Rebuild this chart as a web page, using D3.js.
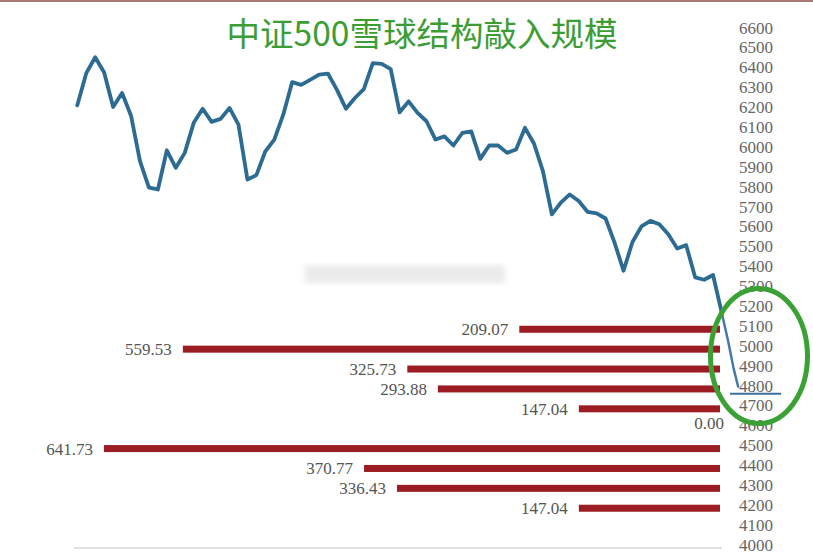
<!DOCTYPE html>
<html><head><meta charset="utf-8">
<script src="https://cdn.jsdelivr.net/npm/d3@7"></script>
<style>html,body{margin:0;padding:0;background:#fff;}svg{display:block;}</style>
</head><body>
<script>
// ---- data ----
const titleText = "中证500雪球结构敲入规模";
const axisTicks = [6600,6500,6400,6300,6200,6100,6000,5900,5800,5700,5600,5500,5400,5300,5200,5100,5000,4900,4800,4700,4600,4500,4400,4300,4200,4100,4000];
const priceSeries = [6211,6373,6453,6376,6203,6273,6159,5930,5797,5788,5985,5897,5972,6123,6194,6128,6143,6198,6114,5838,5860,5980,6039,6164,6328,6314,6339,6365,6370,6289,6194,6248,6293,6423,6420,6393,6176,6231,6173,6131,6039,6055,6009,6072,6080,5942,6009,6009,5972,5989,6098,6019,5880,5663,5722,5763,5730,5675,5668,5642,5521,5379,5524,5602,5630,5613,5563,5491,5508,5346,5334,5358,5162];
const knockLevels = [5100,5000,4900,4800,4700,4600,4500,4400,4300,4200];
const knockAmounts = [209.07,559.53,325.73,293.88,147.04,0.00,641.73,370.77,336.43,147.04];
const annotIdx = [72,72.7,73.3,73.8];
const annotVals = [5162,5022,4887,4797];
const markIdx = [72.9,78.6];
const markVal = 4761;

// ---- layout ----
const W = 813, H = 554;
const svg = d3.select("body").append("svg").attr("width", W).attr("height", H);

const y = d3.scaleLinear().domain([4000, 6600]).range([545, 28]);
const x = d3.scaleLinear().domain([0, priceSeries.length - 1]).range([77.3, 722]);
const xb = d3.scaleLinear().domain([0, 700]).range([720, 48]);

// top border
svg.append("rect").attr("x", 0).attr("y", 0).attr("width", W).attr("height", 2).attr("fill", "#a87a76");

// blur filter for watermark
const defs = svg.append("defs");
defs.append("filter").attr("id", "blur").append("feGaussianBlur").attr("stdDeviation", 3);
svg.append("rect").attr("x", 305).attr("y", 265).attr("width", 200).attr("height", 18)
  .attr("fill", "#d9d9d9").attr("opacity", 0.55).attr("filter", "url(#blur)");

// title
svg.append("text").attr("x", 422).attr("y", 46).attr("text-anchor", "middle")
  .attr("font-family", "'Noto Sans CJK SC', sans-serif").attr("font-size", 33.5)
  .attr("fill", "#3c9d34").text(titleText);

// baseline
svg.append("line").attr("x1", 74).attr("x2", 722).attr("y1", 548).attr("y2", 548)
  .attr("stroke", "#d6d6d6").attr("stroke-width", 1.5);

// right axis labels
svg.append("g").selectAll("text").data(axisTicks).join("text")
  .attr("x", 739).attr("y", d => y(d)).attr("dy", "0.33em")
  .attr("font-family", "'Liberation Serif', 'DejaVu Serif', serif").attr("font-size", 17)
  .attr("fill", "#666").text(d => d);

// bars
const barOff = 3;
const bars = knockLevels.map((l, i) => ({level: l, amt: knockAmounts[i]}));
svg.append("g").selectAll("rect").data(bars.filter(d => d.amt > 0)).join("rect")
  .attr("x", d => xb(d.amt)).attr("width", d => xb(0) - xb(d.amt))
  .attr("y", d => y(d.level) + barOff - 3.5).attr("height", 7)
  .attr("fill", "#9b1c22");

svg.append("g").selectAll("text").data(bars).join("text")
  .attr("x", d => d.amt > 0 ? xb(d.amt) - 11 : xb(0) + 4)
  .attr("y", d => d.amt > 0 ? y(d.level) + barOff : y(d.level) - 3)
  .attr("dy", "0.35em").attr("text-anchor", "end")
  .attr("font-family", "'Liberation Serif', 'DejaVu Serif', serif").attr("font-size", 17)
  .attr("fill", "#555").text(d => d.amt.toFixed(2));

// price line
const line = d3.line().x((d, i) => x(i)).y(d => y(d));
svg.append("path").datum(priceSeries).attr("d", line)
  .attr("fill", "none").attr("stroke", "#2c6b92").attr("stroke-width", 3.8)
  .attr("stroke-linejoin", "round").attr("stroke-linecap", "round");

// annotation continuation
const annot = annotIdx.map((v, i) => [x(v), y(annotVals[i])]);
svg.append("path").attr("d", d3.line()(annot))
  .attr("fill", "none").attr("stroke", "#4479aa").attr("stroke-width", 2.5)
  .attr("stroke-linejoin", "round").attr("stroke-linecap", "round");
svg.append("line").attr("x1", x(markIdx[0])).attr("x2", x(markIdx[1]))
  .attr("y1", y(markVal)).attr("y2", y(markVal))
  .attr("stroke", "#3d6f9e").attr("stroke-width", 2);

// green ellipse
svg.append("ellipse").attr("cx", xb(0) + 39).attr("cy", y(4950))
  .attr("rx", 48.5).attr("ry", 67.5)
  .attr("fill", "none").attr("stroke", "#3aa234").attr("stroke-width", 5);
</script>
</body></html>
